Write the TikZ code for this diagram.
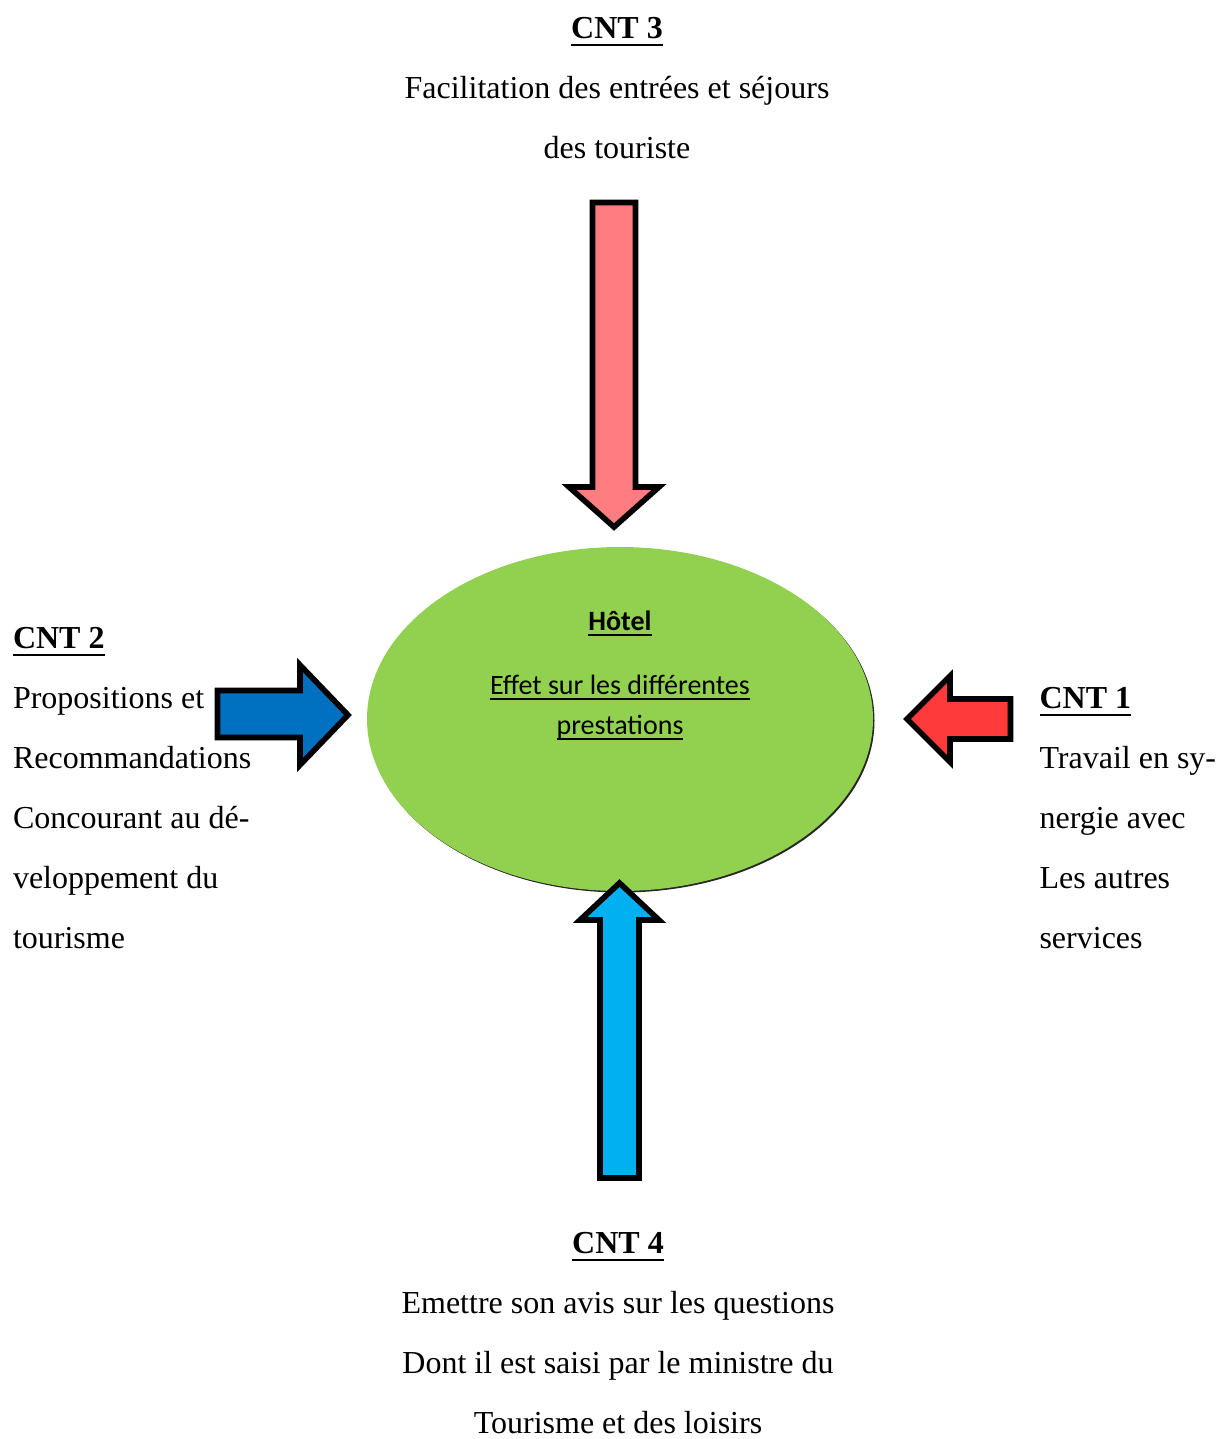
\documentclass[tikz,border=0pt]{standalone}
\usepackage{fontspec}
\setmainfont{Liberation Serif}
\newfontfamily\calibri{Carlito}

\newsavebox\boiteSoul
\newcommand\soulig[2][3pt]{\sbox\boiteSoul{#2}%
    \rlap{\rule[-#1]{\wd\boiteSoul}{0.75pt}}\usebox\boiteSoul}

\definecolor{flechehaut}{HTML}{FF7C80}
\definecolor{flechegauche}{HTML}{0070C0}
\definecolor{flechedroite}{HTML}{FF3A3A}
\definecolor{flechebas}{HTML}{00B0F0}
\definecolor{vertHotel}{HTML}{92D050}

\tikzset{
    bloc/.style={draw=black, line width=2.1pt, line join=miter},
    cnt/.style={font=\fontsize{12}{22.5}\selectfont, inner sep=0pt},
}

\begin{document}
\begin{tikzpicture}[x=0.375pt, y=-0.375pt]
        \useasboundingbox (0,0) rectangle (1225,1439);
        % ellipse centrale
        \fill [black!85] (621.5,720.5) ellipse [x radius=253, y radius=172];
        \fill [vertHotel] (620,719) ellipse [x radius=253, y radius=172];
        \node [font=\calibri\fontsize{10.5}{15}\selectfont, inner sep=0pt,
            align=center, anchor=base] (hotel) at (620,734)
            {\soulig[2.4pt]{\textbf{Hôtel}}\\[9pt]
            \soulig[2.4pt]{Effet sur les différentes}\\
            \soulig[2.4pt]{prestations}};
        % les quatre fleches
        \draw [bloc, fill=flechehaut] (592.5,202.5) -- (635.5,202.5) --
            (635.5,487) -- (659,487) -- (614,527) -- (569,487) --
            (592.5,487) -- cycle;
        \draw [bloc, fill=flechebas] (600,1178) -- (639,1178) -- (639,920)
            -- (659,920) -- (619.5,883) -- (580,920) -- (600,920) -- cycle;
        \draw [bloc, fill=flechegauche] (217.5,690.5) -- (300,690.5) --
            (300,665) -- (348,715) -- (300,765) -- (300,737.5) --
            (217.5,737.5) -- cycle;
        \draw [bloc, fill=flechedroite] (1010.5,699) -- (950,699) --
            (950,676) -- (907,719) -- (950,762) -- (950,739) --
            (1010.5,739) -- cycle;
        % textes
        \node [cnt, align=center, anchor=base] (cnt3) at (617,158)
            {\soulig{\textbf{CNT 3}}\\ Facilitation des entrées et séjours\\
            des touriste};
        \node [cnt, align=left, anchor=base west] (cnt2) at (12.5,948)
            {\soulig{\textbf{CNT 2}}\\ Propositions et\\ Recommandations\\
            Concourant au dé-\\ veloppement du\\ tourisme};
        \node [cnt, align=left, anchor=base west] (cnt1) at (1039,948)
            {\soulig{\textbf{CNT 1}}\\ Travail en sy-\\ nergie avec\\
            Les autres\\ services};
        \node [cnt, align=center, anchor=base] (cnt4) at (618,1433)
            {\soulig{\textbf{CNT 4}}\\ Emettre son avis sur les questions\\
            Dont il est saisi par le ministre du\\ Tourisme et des loisirs};
\end{tikzpicture}
\end{document}
